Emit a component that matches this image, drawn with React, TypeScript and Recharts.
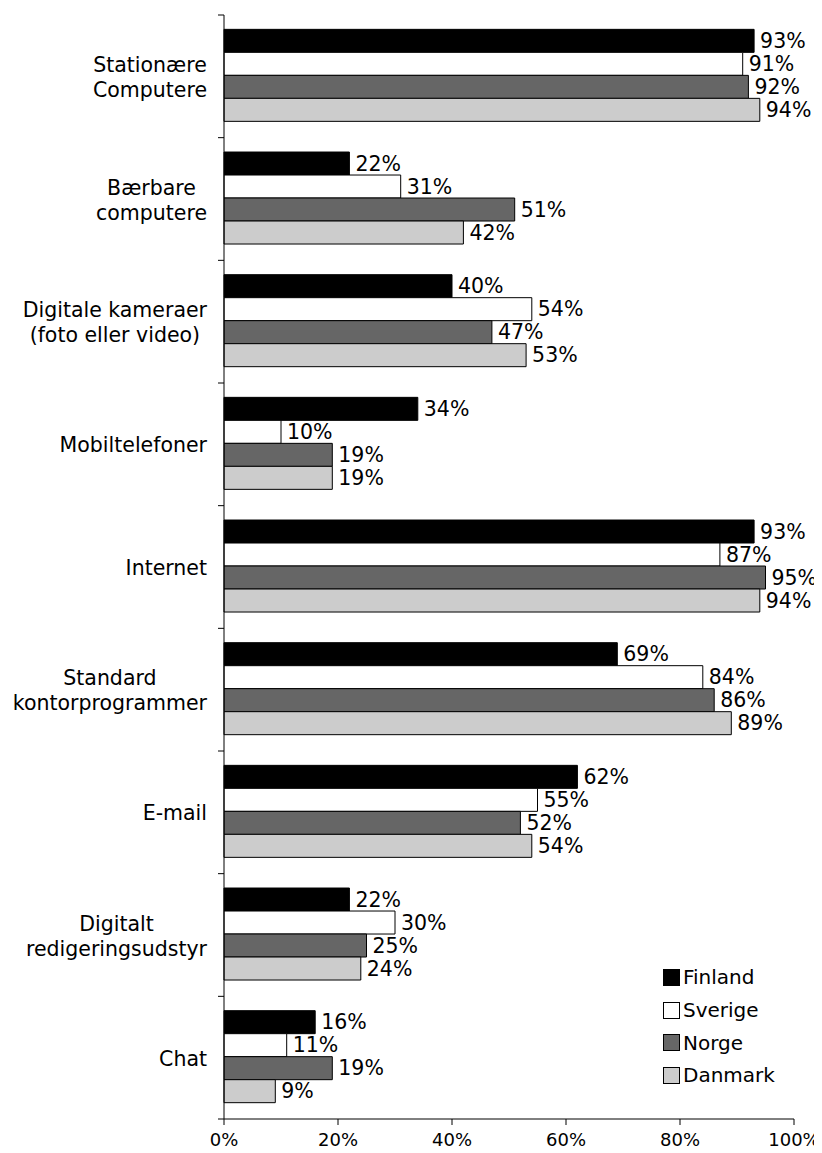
import React from 'react';
import {
  BarChart,
  Bar,
  XAxis,
  YAxis,
  LabelList,
} from 'recharts';

const categories = [
  'Stationære\nComputere',
  'Bærbare\ncomputere',
  'Digitale kameraer\n(foto eller video)',
  'Mobiltelefoner',
  'Internet',
  'Standard\nkontorprogrammer',
  'E-mail',
  'Digitalt\nredigeringsudstyr',
  'Chat',
];

const finland = [93, 22, 40, 34, 93, 69, 62, 22, 16];
const sverige = [91, 31, 54, 10, 87, 84, 55, 30, 11];
const norge = [92, 51, 47, 19, 95, 86, 52, 25, 19];
const danmark = [94, 42, 53, 19, 94, 89, 54, 24, 9];

const xTicks = [0, 20, 40, 60, 80, 100];

const series = [
  { key: 'finland', name: 'Finland', color: '#000000', values: finland },
  { key: 'sverige', name: 'Sverige', color: '#ffffff', values: sverige },
  { key: 'norge', name: 'Norge', color: '#666666', values: norge },
  { key: 'danmark', name: 'Danmark', color: '#cccccc', values: danmark },
];

const data = categories.map((cat, i) => ({
  cat,
  finland: finland[i],
  sverige: sverige[i],
  norge: norge[i],
  danmark: danmark[i],
}));

const FONT = '"DejaVu Sans", Verdana, sans-serif';
const CHART_W = 814;
const CHART_H = 1145;
const MARGIN = { top: 7, right: 28, bottom: 0, left: 0 };
const X_AXIS_H = 34;
const Y_AXIS_W = 216;
const PLOT_H = CHART_H - MARGIN.top - MARGIN.bottom - X_AXIS_H;
const BAND = PLOT_H / categories.length;

let measureCtx: CanvasRenderingContext2D | null = null;
function textWidth(s: string, size: number) {
  if (!measureCtx && typeof document !== 'undefined') {
    measureCtx = document.createElement('canvas').getContext('2d');
  }
  if (!measureCtx) return s.length * size * 0.6;
  measureCtx.font = `${size}px "DejaVu Sans"`;
  return measureCtx.measureText(s).width;
}

// category label, centred lines in a right-aligned block, plus boundary ticks
function CategoryTick(props: any) {
  const { x, y, payload, index } = props;
  const lines = String(payload.value).split('\n');
  const size = 20.5;
  const maxW = Math.max(...lines.map((l) => textWidth(l, size)));
  const cx = x - maxW / 2;
  const axisX = x + 17;
  const half = BAND / 2;
  const lh = 25;
  const y0 = y - ((lines.length - 1) * lh) / 2 + 1;
  return (
    <g>
      <line x1={axisX - 6} x2={axisX} y1={y - half} y2={y - half} stroke="#000" />
      {index === categories.length - 1 && (
        <line x1={axisX - 6} x2={axisX} y1={y + half} y2={y + half} stroke="#000" />
      )}
      <text
        x={cx}
        y={y0}
        textAnchor="middle"
        dominantBaseline="central"
        fontSize={size}
        fill="#000"
      >
        {lines.map((l, i) => (
          <tspan key={i} x={cx} y={y0 + i * lh}>
            {l}
          </tspan>
        ))}
      </text>
    </g>
  );
}

export default function App() {
  return (
    <div style={{ position: 'relative', width: CHART_W, height: CHART_H, fontFamily: FONT }}>
      <BarChart
        width={CHART_W}
        height={CHART_H}
        data={data}
        layout="vertical"
        margin={MARGIN}
        barGap={0}
        barCategoryGap="11.7%"
      >
        <XAxis
          type="number"
          domain={[0, 100]}
          ticks={xTicks}
          tickFormatter={(v) => `${v}%`}
          height={X_AXIS_H}
          axisLine={{ stroke: '#000' }}
          tickLine={{ stroke: '#000' }}
          tickSize={6}
          tickMargin={8}
          tick={{ fontSize: 18, fill: '#000' }}
          interval={0}
        />
        <XAxis
          xAxisId="top"
          orientation="top"
          type="number"
          domain={[0, 100]}
          height={0}
          tick={false}
          tickLine={false}
          axisLine={{ stroke: '#999' }}
        />
        <YAxis
          type="category"
          dataKey="cat"
          width={Y_AXIS_W}
          axisLine={{ stroke: '#000' }}
          tickLine={false}
          tickSize={6}
          tickMargin={11}
          tick={<CategoryTick />}
          interval={0}
        />
        <YAxis
          yAxisId="right"
          orientation="right"
          type="number"
          domain={[0, 1]}
          width={0}
          tick={false}
          tickLine={false}
          axisLine={{ stroke: '#999' }}
        />
        {series.map((s) => (
          <Bar
            key={s.key}
            dataKey={s.key}
            name={s.name}
            fill={s.color}
            stroke="#000"
            strokeWidth={1}
            isAnimationActive={false}
          >
            <LabelList
              dataKey={s.key}
              position="right"
              offset={6}
              formatter={(v: any) => `${v}%`}
              style={{ fontSize: 20.5, fill: '#000' }}
            />
          </Bar>
        ))}
      </BarChart>
      <div
        style={{
          position: 'absolute',
          left: 655,
          top: 953,
          fontSize: 20,
          color: '#000',
        }}
      >
        {series.map((s) => (
          <div
            key={s.key}
            style={{ display: 'flex', alignItems: 'center', height: 32.7 }}
          >
            <span
              style={{
                display: 'inline-block',
                width: 15,
                height: 15,
                background: s.color,
                border: '1px solid #000',
                marginRight: 3,
              }}
            />
            <span>{s.name}</span>
          </div>
        ))}
      </div>
    </div>
  );
}
